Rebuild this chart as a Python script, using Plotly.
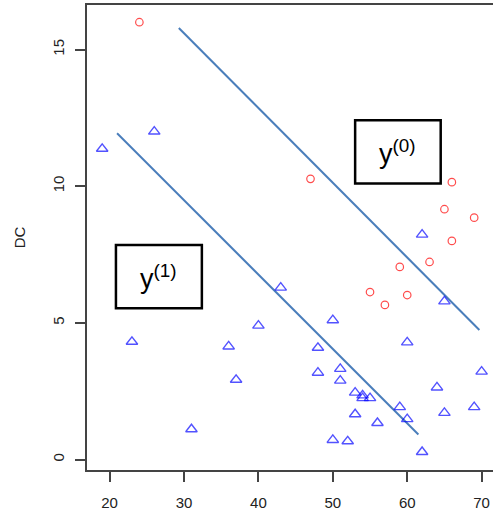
import plotly.graph_objects as go

# Data
y0_x = [24, 47, 66, 65, 69, 66, 63, 59, 55, 60, 57]
y0_y = [16.0, 10.27, 10.15, 9.16, 8.85, 8.0, 7.23, 7.05, 6.13, 6.02, 5.66]

y1_x = [19, 26, 23, 36, 37, 31, 43, 40, 50, 65, 60, 48, 48, 51, 51, 70, 64, 53, 54, 54,
        55, 59, 69, 65, 53, 60, 56, 50, 52, 62, 62]
y1_y = [11.37, 12.0, 4.31, 4.14, 2.92, 1.11, 6.29, 4.9, 5.1, 5.79, 4.29, 4.09, 3.18, 3.32,
        2.89, 3.22, 2.64, 2.45, 2.35, 2.25, 2.25, 1.92, 1.92, 1.71, 1.66, 1.48, 1.34, 0.72,
        0.67, 0.28, 8.23]

line0_x = [29.3, 69.7]
line0_y = [15.79, 4.74]
line1_x = [21.0, 61.5]
line1_y = [11.94, 0.92]

x_ticks = [20, 30, 40, 50, 60, 70]
y_ticks = [0, 5, 10, 15]

box0 = dict(x0=53.0, x1=64.5, y0=10.1, y1=12.41, label="y<sup>(0)</sup>")
box1 = dict(x0=20.85, x1=32.4, y0=5.54, y1=7.85, label="y<sup>(1)</sup>")

FONT = "Liberation Sans, Arial, sans-serif"
LINE_COLOR = "#4A7EBB"

fig = go.Figure()
for lx, ly in [(line0_x, line0_y), (line1_x, line1_y)]:
    fig.add_trace(go.Scatter(x=lx, y=ly, mode="lines",
                             line=dict(color=LINE_COLOR, width=2), showlegend=False,
                             hoverinfo="skip"))

fig.add_trace(go.Scatter(x=y0_x, y=y0_y, mode="markers", name="y(0)",
                         marker=dict(symbol="circle-open", size=7.5,
                                     color="rgba(255,0,0,0.7)",
                                     line=dict(width=1.2, color="rgba(255,0,0,0.7)")),
                         showlegend=False))
fig.add_trace(go.Scatter(x=y1_x, y=y1_y, mode="markers", name="y(1)",
                         marker=dict(symbol="triangle-up-open", size=10,
                                     color="rgba(0,0,255,0.68)",
                                     line=dict(width=1.4, color="rgba(0,0,255,0.68)")),
                         showlegend=False))

for b in (box0, box1):
    fig.add_shape(type="rect", xref="x", yref="y", x0=b["x0"], x1=b["x1"],
                  y0=b["y0"], y1=b["y1"], line=dict(color="black", width=2.5),
                  fillcolor="white", layer="below")
    fig.add_annotation(x=(b["x0"] + b["x1"]) / 2, y=(b["y0"] + b["y1"]) / 2,
                       xref="x", yref="y", text=b["label"], showarrow=False,
                       font=dict(family=FONT, size=27, color="black"))

fig.update_layout(
    width=493, height=510,
    margin=dict(l=87, r=0, t=5, b=40, autoexpand=False),
    paper_bgcolor="white", plot_bgcolor="white",
    font=dict(family=FONT, color="#222222"),
)
fig.update_xaxes(range=[16.96, 71.53], tickvals=x_ticks, ticks="outside", ticklen=10,
                 tickwidth=1.5, tickcolor="#444444", showgrid=False, zeroline=False,
                 showline=True, linecolor="#444444", linewidth=1.5, mirror=True,
                 tickfont=dict(size=15, family=FONT, color="#222222"),
                 ticklabelstandoff=8, automargin=False)
fig.update_yaxes(range=[-0.38, 16.63], tickvals=y_ticks, ticks="outside", ticklen=10,
                 tickwidth=1.5, tickcolor="#444444", showgrid=False, zeroline=False,
                 showline=True, linecolor="#444444", linewidth=1.5,
                 tickangle=-90, tickfont=dict(size=15, family=FONT, color="#222222"),
                 ticklabelstandoff=5, automargin=False,
                 title=dict(text="DC", font=dict(size=15, family=FONT, color="#222222"),
                            standoff=21))

fig.write_html("out.html", config={"displayModeBar": False},
               post_script="document.body.style.margin='0';document.body.style.padding='0';")
